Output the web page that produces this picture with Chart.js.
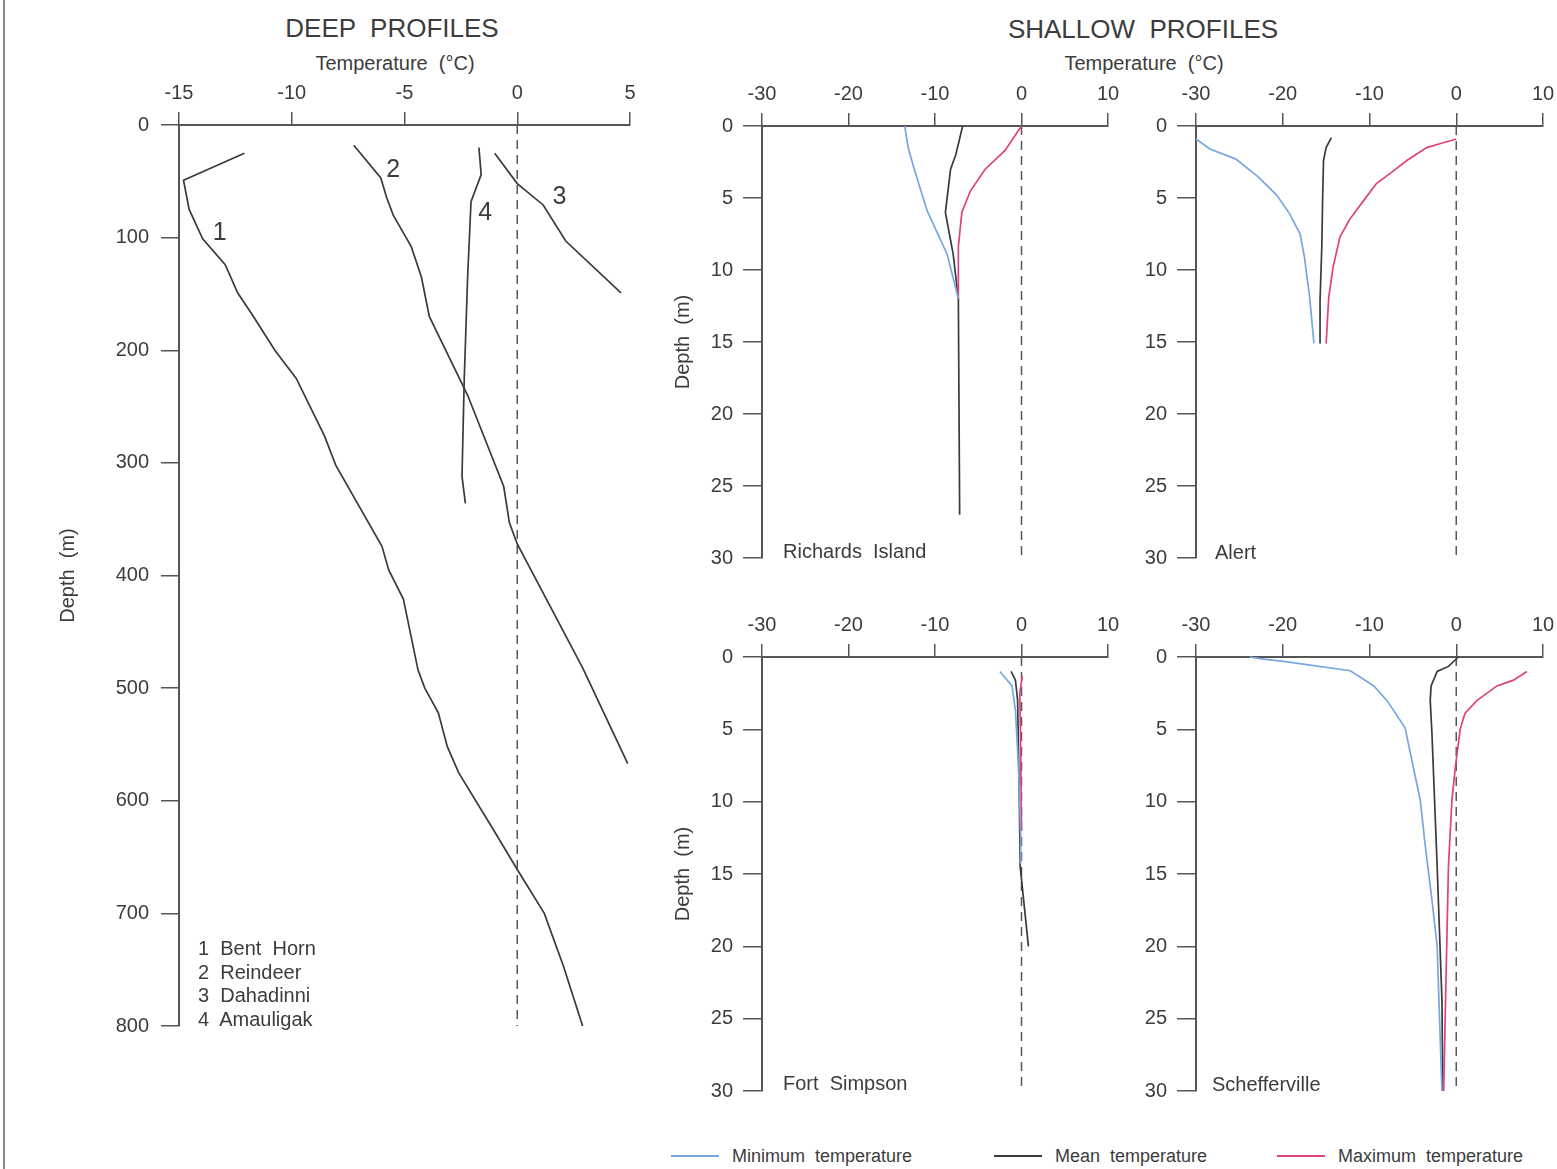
<!DOCTYPE html>
<html><head><meta charset="utf-8">
<script src="https://cdn.jsdelivr.net/npm/chart.js@4.4.0/dist/chart.umd.min.js"></script>
<style>
body{margin:0;background:#fff;width:1557px;height:1169px;position:relative;overflow:hidden;font-family:"Liberation Sans",Arial,sans-serif;color:#3c3c3c;}
canvas{position:absolute;}
.c{position:absolute;white-space:pre;line-height:1;transform:translate(-50%,-50%);}
.l{position:absolute;white-space:pre;line-height:1;transform:translateY(-50%);}
.sw{position:absolute;height:2px;}
</style></head><body>
<div style="position:absolute;left:3px;top:0;width:2px;height:1169px;background:#8a8a8a"></div>

<div class="c" style="left:392px;top:28px;font-size:26px">DEEP  PROFILES</div>
<div class="c" style="left:1143px;top:29px;font-size:26px">SHALLOW  PROFILES</div>
<div class="c" style="left:395px;top:63px;font-size:20px">Temperature  (°C)</div>
<div class="c" style="left:1144px;top:63px;font-size:20px">Temperature  (°C)</div>

<canvas id="deep" width="660" height="1060" style="left:0;top:0"></canvas>
<canvas id="pA" width="480" height="520" style="left:650px;top:70px"></canvas>
<canvas id="pB" width="440" height="520" style="left:1130px;top:70px"></canvas>
<canvas id="pC" width="480" height="520" style="left:650px;top:600px"></canvas>
<canvas id="pD" width="440" height="520" style="left:1130px;top:600px"></canvas>

<div class="l" style="left:198px;top:948px;font-size:20px">1  Bent  Horn</div>
<div class="l" style="left:198px;top:972px;font-size:20px">2  Reindeer</div>
<div class="l" style="left:198px;top:995px;font-size:20px">3  Dahadinni</div>
<div class="l" style="left:198px;top:1019px;font-size:20px">4  Amauligak</div>

<div class="l" style="left:783px;top:551px;font-size:20px">Richards  Island</div>
<div class="l" style="left:1215px;top:552px;font-size:20px">Alert</div>
<div class="l" style="left:783px;top:1083px;font-size:20px">Fort  Simpson</div>
<div class="l" style="left:1212px;top:1084px;font-size:20px">Schefferville</div>

<div class="sw" style="left:671px;top:1155px;width:48px;background:#78a6e0"></div>
<div class="l" style="left:732px;top:1156px;font-size:18px">Minimum  temperature</div>
<div class="sw" style="left:994px;top:1155px;width:48px;background:#3a3a3a"></div>
<div class="l" style="left:1055px;top:1156px;font-size:18px">Mean  temperature</div>
<div class="sw" style="left:1277px;top:1155px;width:48px;background:#e0407d"></div>
<div class="l" style="left:1338px;top:1156px;font-size:18px">Maximum  temperature</div>

<script>
// ---------------- DATA ----------------
// Deep profiles (temperature °C, depth m)
const bentHornTemp  = [-12.1, -14.8, -14.55, -13.95, -12.95, -12.4, -11.7, -10.75, -9.8, -8.55, -8.05, -6.0, -5.7, -5.05, -4.4, -4.1, -3.5, -3.1, -2.6, -1.05, 0, 1.2, 2.05, 2.9];
const bentHornDepth = [25, 49, 75, 101, 124, 149, 170, 200, 225, 276, 302, 374, 395, 421, 484, 500, 522, 552, 575, 626, 661, 700, 747, 800];
const reindeerTemp  = [-7.25, -6.05, -5.8, -5.5, -4.7, -4.25, -3.9, -2.2, -0.6, -0.35, 0, 2.9, 4.9];
const reindeerDepth = [18, 47, 64, 80, 108, 135, 170, 240, 321, 353, 372, 482, 567];
const dahadinniTemp  = [-1.0, 0, 1.15, 2.15, 4.6];
const dahadinniDepth = [25, 52, 71, 103, 149];
const amauligakTemp  = [-1.7, -1.6, -2.05, -2.2, -2.35, -2.45, -2.3];
const amauligakDepth = [20, 44, 68, 135, 225, 312, 336];

const deepTicksTemp = [-15, -10, -5, 0, 5];
const deepTicksDepth = [0, 100, 200, 300, 400, 500, 600, 700, 800];
const shallowTicksTemp = [-30, -20, -10, 0, 10];
const shallowTicksDepth = [0, 5, 10, 15, 20, 25, 30];

// Richards Island
const riMinTemp  = [-13.5, -13.1, -12.5, -10.9, -8.6, -7.3];
const riMinDepth = [0, 1.5, 2.8, 5.9, 8.9, 12];
const riMeanTemp  = [-6.8, -7.6, -8.2, -8.8, -7.9, -7.3, -7.15];
const riMeanDepth = [0, 2.0, 3.0, 6.0, 8.9, 12, 27];
const riMaxTemp  = [0, -1.9, -4.2, -5.9, -6.9, -7.3, -7.3];
const riMaxDepth = [0, 1.7, 3.0, 4.5, 6.0, 8.4, 12];

// Alert
const alMinTemp  = [-30, -28.4, -25.4, -22.9, -20.7, -19.2, -18.0, -17.5, -16.9, -16.4];
const alMinDepth = [0.9, 1.6, 2.3, 3.5, 4.8, 6.1, 7.5, 9.1, 11.9, 15.1];
const alMeanTemp  = [-14.4, -15.0, -15.3, -15.4, -15.5, -15.7, -15.7];
const alMeanDepth = [0.8, 1.5, 2.4, 4.9, 8.4, 12.1, 15.1];
const alMaxTemp  = [0, -1.7, -3.4, -5.7, -7.2, -9.2, -10.7, -12.3, -13.4, -14.2, -14.7, -15.0];
const alMaxDepth = [0.9, 1.2, 1.5, 2.4, 3.1, 4.0, 5.2, 6.5, 7.7, 9.8, 11.9, 15.1];

// Fort Simpson
const fsMinTemp  = [-2.5, -1.1, -0.7, -0.35, -0.1, -0.1];
const fsMinDepth = [1.0, 2.0, 3.7, 7.6, 12.2, 14.3];
const fsMeanTemp  = [-1.2, -0.7, -0.45, -0.25, -0.15, 0.25, 0.8];
const fsMeanDepth = [1.0, 1.6, 3.0, 9.9, 14.5, 16.8, 20.0];
const fsMaxTemp  = [0.1, -0.2, -0.1, 0];
const fsMaxDepth = [1.3, 2.5, 6.0, 12.0];

// Schefferville
const scMinTemp  = [-23.8, -22.2, -19.9, -12.2, -9.5, -8.0, -5.9, -4.15, -3.6, -2.8, -2.2, -1.65];
const scMinDepth = [0, 0.15, 0.3, 0.95, 2.0, 3.0, 4.9, 9.9, 12.9, 16.8, 20.0, 30];
const scMeanTemp  = [0.25, -0.9, -2.2, -2.9, -3.0, -2.8, -2.2, -1.65, -1.55];
const scMeanDepth = [0, 0.65, 1.0, 2.0, 3.0, 5.3, 14.5, 23.7, 30];
const scMaxTemp  = [8.15, 6.6, 4.7, 2.4, 1.0, 0.45, -0.1, -0.5, -0.9, -1.15, -1.45];
const scMaxDepth = [1.0, 1.6, 2.0, 3.0, 3.9, 5.0, 7.6, 9.9, 14.5, 21.4, 30];

// curve number labels for deep profiles
const curveNames = ['1', '2', '3', '4'];
const curveNameTemp = [-13.2, -5.5, 1.87, -1.42];
const curveNameDepth = [96, 40, 64, 78];

// ---------------- STYLE / BUILD ----------------
const FONT = "'Liberation Sans', Arial, sans-serif";
const TXT = '#3c3c3c', AX = '#555555';
const C_MIN = '#78a6e0', C_MEAN = '#3a3a3a', C_MAX = '#e0407d';

const pts = (t, d) => t.map((v, i) => ({x: v, y: d[i]}));
function line(t, d, color, width, dash) {
  return {data: pts(t, d), borderColor: color, backgroundColor: color, borderWidth: width,
    borderDash: dash || [], showLine: true, pointRadius: 0, pointHoverRadius: 0, fill: false, tension: 0, clip: false};
}

const labelPlugin = {
  id: 'curveLabels',
  afterDatasetsDraw(chart, args, opts) {
    if (!opts || !opts.text) return;
    const {ctx, scales: {x, y}} = chart;
    ctx.save();
    ctx.font = opts.font; ctx.fillStyle = opts.color;
    ctx.textAlign = 'center'; ctx.textBaseline = 'middle';
    opts.text.forEach((s, i) => ctx.fillText(s, x.getPixelForValue(opts.t[i]), y.getPixelForValue(opts.d[i])));
    ctx.restore();
  }
};

function xAxis(ticksArr, height) {
  return {
    type: 'linear', position: 'top', min: ticksArr[0], max: ticksArr[ticksArr.length - 1],
    afterBuildTicks: s => { s.ticks = ticksArr.map(v => ({value: v})); },
    ticks: {autoSkip: false, maxRotation: 0, font: {family: FONT, size: 20}, color: TXT, padding: 7},
    grid: {drawOnChartArea: false, drawTicks: true, tickLength: 13, color: AX, lineWidth: 1.5},
    border: {display: true, color: AX, width: 2},
    afterFit: s => { s.height = height; }
  };
}
function yAxis(ticksArr, width, tickLen, pad, titlePad) {
  return {
    type: 'linear', position: 'left', reverse: true, min: ticksArr[0], max: ticksArr[ticksArr.length - 1],
    afterBuildTicks: s => { s.ticks = ticksArr.map(v => ({value: v})); },
    ticks: {autoSkip: false, font: {family: FONT, size: 20}, color: TXT, padding: pad},
    grid: {drawOnChartArea: false, drawTicks: true, tickLength: tickLen, color: AX, lineWidth: 1.5},
    border: {display: true, color: AX, width: 2},
    title: titlePad == null ? {display: false} :
      {display: true, text: 'Depth  (m)', color: TXT, font: {family: FONT, size: 20}, padding: {top: titlePad, bottom: 0}},
    afterFit: s => { s.width = width; }
  };
}

function makeChart(id, datasets, scales, padding, labelOpts) {
  return new Chart(document.getElementById(id), {
    type: 'scatter',
    data: {datasets},
    options: {
      responsive: false, animation: false, devicePixelRatio: 1,
      layout: {padding},
      scales,
      plugins: {legend: {display: false}, tooltip: {enabled: false}, title: {display: false},
        curveLabels: labelOpts || {}},
      events: []
    },
    plugins: [labelPlugin]
  });
}

const DASH = [9, 6];

// Deep profiles
makeChart('deep', [
  line(bentHornTemp, bentHornDepth, C_MEAN, 1.7),
  line(reindeerTemp, reindeerDepth, C_MEAN, 1.7),
  line(dahadinniTemp, dahadinniDepth, C_MEAN, 1.7),
  line(amauligakTemp, amauligakDepth, C_MEAN, 1.7),
  line([0, 0], [0, 800], '#555', 1.5, DASH)
], {x: xAxis(deepTicksTemp, 125), y: yAxis(deepTicksDepth, 179, 18, 12, 56)},
{top: 0, left: 0, right: 30, bottom: 34},
{text: curveNames, t: curveNameTemp, d: curveNameDepth, font: "25px " + FONT, color: TXT});

function shallow(id, mn, me, mx, yW, xH, right, bottom, titlePad) {
  return makeChart(id, [
    line(mn[0], mn[1], C_MIN, 1.7),
    line(mx[0], mx[1], C_MAX, 1.7),
    line(me[0], me[1], C_MEAN, 1.7),
    line([0, 0], [0, 30], '#555', 1.5, DASH)
  ], {x: xAxis(shallowTicksTemp, xH), y: yAxis(shallowTicksDepth, yW, 19, 10, titlePad)},
  {top: 0, left: 0, right, bottom});
}

shallow('pA', [riMinTemp, riMinDepth], [riMeanTemp, riMeanDepth], [riMaxTemp, riMaxDepth], 112, 56, 22, 32, 21);
shallow('pB', [alMinTemp, alMinDepth], [alMeanTemp, alMeanDepth], [alMaxTemp, alMaxDepth], 66, 56, 27, 32, null);
shallow('pC', [fsMinTemp, fsMinDepth], [fsMeanTemp, fsMeanDepth], [fsMaxTemp, fsMaxDepth], 112, 57, 22, 29, 21);
shallow('pD', [scMinTemp, scMinDepth], [scMeanTemp, scMeanDepth], [scMaxTemp, scMaxDepth], 66, 57, 27, 29, null);
</script>
</body></html>
